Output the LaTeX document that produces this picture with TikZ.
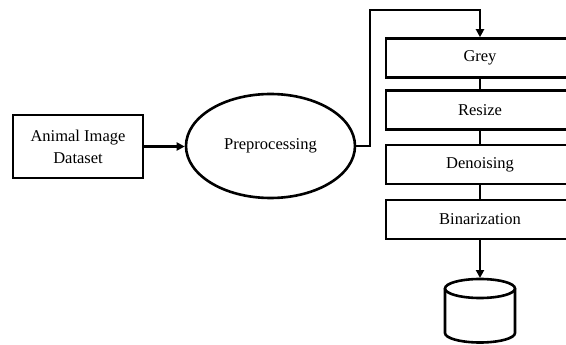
\documentclass[tikz,border=0pt]{standalone}
\usepackage{fontspec}
\setmainfont{Liberation Serif}
\usetikzlibrary{shapes.geometric,arrows.meta}
\begin{document}
\begin{tikzpicture}[x=1pt,y=-1pt,
  lw/.style={line width=2.6pt},
  box/.style={draw,lw,rectangle,inner sep=0pt,font=\fontsize{16.5}{22}\selectfont},
  stepbox/.style={box,minimum width=188pt,minimum height=39pt},
  arr/.style={lw,-{Triangle[length=8pt,width=8pt]}}]
\useasboundingbox (0,0) rectangle (566,345);
\clip (0,0) rectangle (566,345);
\node[box,minimum width=130pt,minimum height=63pt,align=center] (ds) at (78,146.5) {Animal Image\\Dataset};
\node[box,ellipse,minimum width=169pt,minimum height=104pt] (pre) at (270.5,146) {Preprocessing};
\node[stepbox] (grey) at (480,58) {Grey};
\node[stepbox] (resize) at (480,110) {Resize};
\node[stepbox] (denoise) at (480,164.5) {Denoising};
\node[stepbox] (binar) at (480,219.5) {Binarization};
\coordinate (c1) at (370,10);
\coordinate (dbtop) at (480,278);
\draw[arr] (ds.east) -- (ds.east -| pre.west);
\draw[arr] (pre.east) -| (c1) -| (grey.north);
\draw[lw] (grey.south) -- (resize.north);
\draw[lw] (resize.south) -- (denoise.north);
\draw[lw] (denoise.south) -- (binar.north);
\draw[arr] (binar.south) -- (dbtop);
% database cylinder
\draw[lw] (480,288.5) ellipse [x radius=35pt, y radius=9.5pt];
\draw[lw] (445,288.5) -- (445,333) arc[start angle=180,end angle=360,x radius=35pt,y radius=9.5pt] -- (515,288.5);
\end{tikzpicture}
\end{document}
